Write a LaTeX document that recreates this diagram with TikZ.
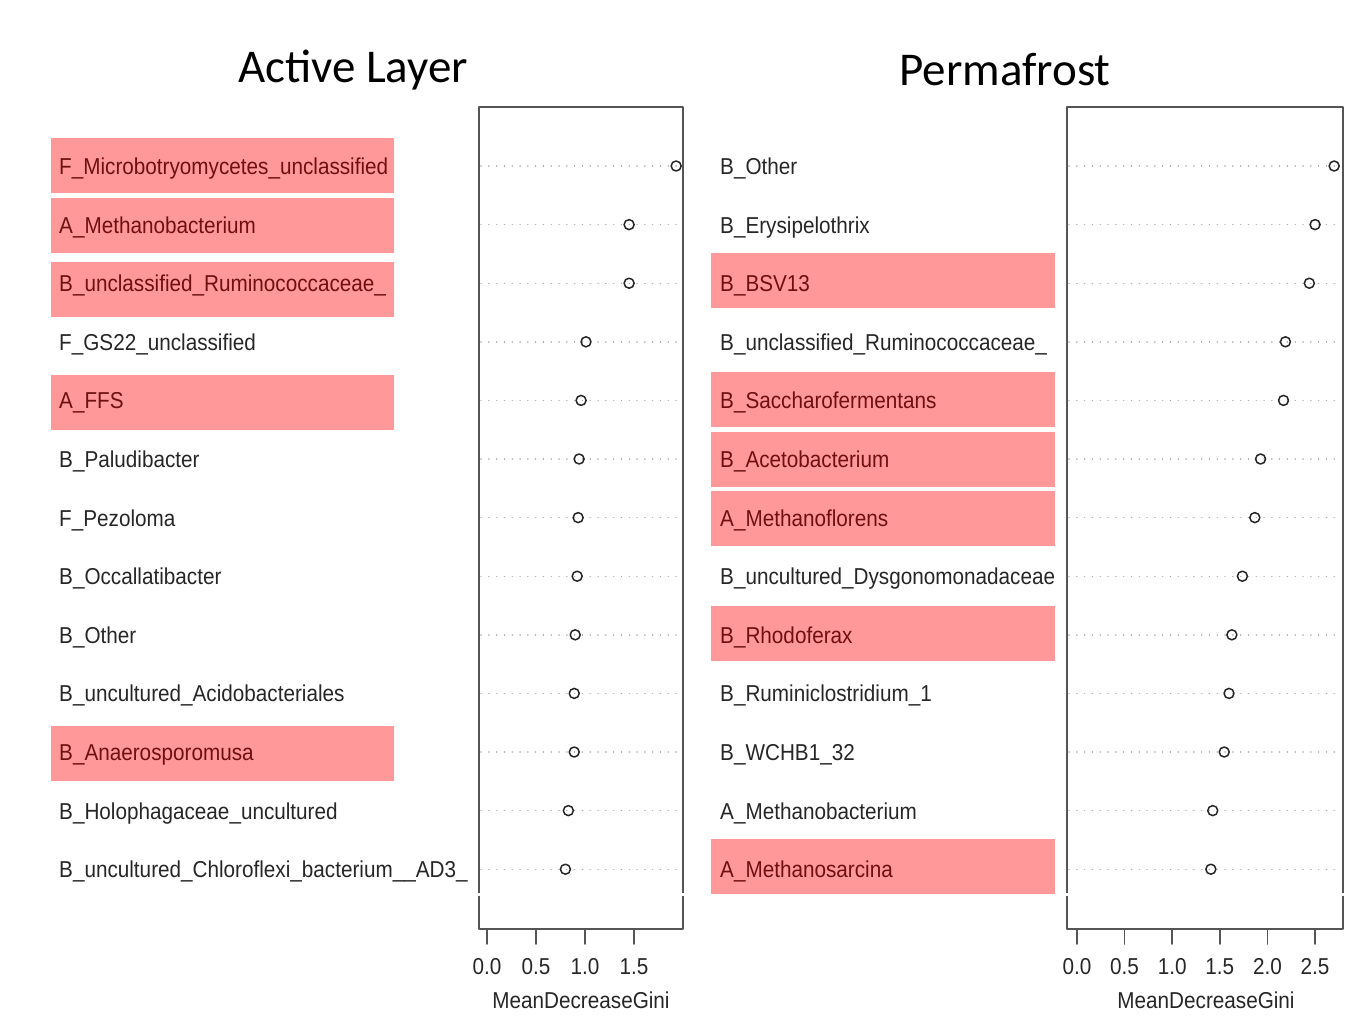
\documentclass[tikz,border=0pt]{standalone}
\usepackage{fontspec}
\setmainfont{Liberation Sans}
\newfontfamily\titlefont{Carlito}
\definecolor{hilite}{RGB}{255,153,153}
\definecolor{hilitetext}{RGB}{110,16,16}
\definecolor{framegray}{RGB}{85,85,85}
% R draws its labels a little narrower than the font
\newcommand{\squeeze}[1]{\scalebox{0.9}[1]{#1}}

\begin{document}
\begin{tikzpicture}[x=1pt, y=-1pt, font=\fontsize{23}{27}\selectfont, line join=round, line cap=round,
	taxon/.style={anchor=base west, inner sep=0pt, text=black!85},
	hitaxon/.style={taxon, text=hilitetext},
	ticklab/.style={anchor=base, inner sep=0pt, text=black!85},
	pinkbox/.style={fill=hilite},
	guide/.style={black!35, line width=1.4pt, dash pattern=on 0.1pt off 7.7pt},
	gini/.style={draw=black!85, line width=1.5pt},
	tick/.style={framegray, line width=1.6pt}]
	\useasboundingbox (0,0) rectangle (1348,1031);
	% titles
	\node[font=\titlefont\fontsize{47}{50}\selectfont] (titleA) at (353,70) {Active Layer};
	\node[font=\titlefont\fontsize{47}{50}\selectfont] (titleP) at (1005,70) {Permafrost};
	% highlighted rows
	\foreach \t in {138,198,262,375,726} \fill[pinkbox] (51,\t) rectangle (394,\t+55);
	\foreach \t in {253,372,432,491,606,839} \fill[pinkbox] (711,\t) rectangle (1055,\t+55);
	% active layer panel
	\foreach \lab/\v/\hl [count=\i] in {F\_Microbotryomycetes\_unclassified/1.93/1, A\_Methanobacterium/1.45/1,
		B\_unclassified\_Ruminococcaceae\_/1.45/1, F\_GS22\_unclassified/1.01/0, A\_FFS/0.96/1,
		B\_Paludibacter/0.94/0, F\_Pezoloma/0.93/0, B\_Occallatibacter/0.92/0, B\_Other/0.90/0,
		B\_uncultured\_Acidobacteriales/0.89/0, B\_Anaerosporomusa/0.89/1,
		B\_Holophagaceae\_uncultured/0.83/0, B\_uncultured\_Chloroflexi\_bacterium\_\_AD3\_/0.80/0} {
		\pgfmathsetmacro{\yy}{166+(\i-1)*58.6}
		\ifnum\hl=1 \node[hitaxon] (al\i) at (59,\yy+8.5) {\squeeze{\lab}};
		\else \node[taxon] (al\i) at (59,\yy+8.5) {\squeeze{\lab}}; \fi
		\draw[guide] (481,\yy) -- (681,\yy);
		\draw[gini] (487+98*\v,\yy) circle (5);
	}
	\draw[framegray, line width=1.6pt] (479,107) rectangle (683,929);
	\draw[tick] (487,929) -- (634,929);
	\foreach \k [count=\j from 0] in {0.0,0.5,1.0,1.5} {
		\draw[tick] (487+49*\j,929) -- (487+49*\j,944);
		\node[ticklab] (tA\j) at (487+49*\j,974) {\squeeze{\k}};
	}
	\node[ticklab] (xlabA) at (581,1008) {\squeeze{MeanDecreaseGini}};
	% permafrost panel
	\foreach \lab/\v/\hl [count=\i] in {B\_Other/2.69/0, B\_Erysipelothrix/2.49/0, B\_BSV13/2.43/1,
		B\_unclassified\_Ruminococcaceae\_/2.18/0, B\_Saccharofermentans/2.16/1, B\_Acetobacterium/1.92/1,
		A\_Methanoflorens/1.86/1, B\_uncultured\_Dysgonomonadaceae/1.73/0, B\_Rhodoferax/1.62/1,
		B\_Ruminiclostridium\_1/1.59/0, B\_WCHB1\_32/1.54/0, A\_Methanobacterium/1.42/0,
		A\_Methanosarcina/1.40/1} {
		\pgfmathsetmacro{\yy}{166+(\i-1)*58.6}
		\ifnum\hl=1 \node[hitaxon] (pf\i) at (720,\yy+8.5) {\squeeze{\lab}};
		\else \node[taxon] (pf\i) at (720,\yy+8.5) {\squeeze{\lab}}; \fi
		\draw[guide] (1069,\yy) -- (1341,\yy);
		\draw[gini] (1077+95.6*\v,\yy) circle (5);
	}
	\draw[framegray, line width=1.6pt] (1067,107) rectangle (1343,929);
	\draw[tick] (1077,929) -- (1315,929);
	\foreach \k [count=\j from 0] in {0.0,0.5,1.0,1.5,2.0,2.5} {
		\draw[tick] (1077+47.6*\j,929) -- (1077+47.6*\j,944);
		\node[ticklab] (tP\j) at (1077+47.6*\j,974) {\squeeze{\k}};
	}
	\node[ticklab] (xlabP) at (1206,1008) {\squeeze{MeanDecreaseGini}};
	% small breaks in the frame sides
	\foreach \fx in {479,683,1067,1343} \draw[white, line width=3pt, line cap=butt] (\fx-2,894) -- (\fx+2,894);
\end{tikzpicture}
\end{document}
